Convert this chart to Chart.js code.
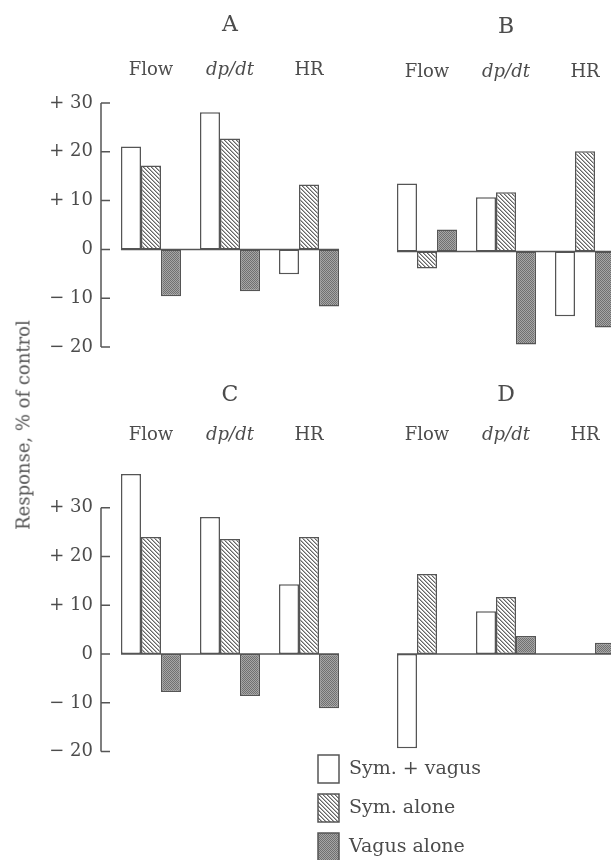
<!DOCTYPE html>
<html>
<head>
<meta charset="utf-8">
<script src="https://cdn.jsdelivr.net/npm/chart.js@4.4.1/dist/chart.umd.min.js"></script>
<style>
  html, body { margin: 0; padding: 0; width: 611px; height: 860px; overflow: hidden; background: #fff; }
  canvas { position: absolute; }
  #ytitle {
    position: absolute; left: 23px; top: 425px;
    transform: translate(-50%, -50%) rotate(-90deg);
    font: 18px "DejaVu Serif"; color: #555; white-space: nowrap;
  }
</style>
</head>
<body>
<canvas id="panelA" width="360" height="387" style="left:0;top:0"></canvas>
<canvas id="panelB" width="340" height="387" style="left:300px;top:2px"></canvas>
<canvas id="panelC" width="360" height="432" style="left:0;top:360px"></canvas>
<canvas id="panelD" width="340" height="500" style="left:300px;top:360px"></canvas>
<div id="ytitle">Response, % of control</div>
<script>
const categories = ['Flow', 'dp/dt', 'HR'];
const seriesNames = ['Sym. + vagus', 'Sym. alone', 'Vagus alone'];
const yTicks = [30, 20, 10, 0, -10, -20];

// panel A
const symVagusA = [21.1, 28.1, -5.1];
const symAloneA = [17.2, 22.7, 13.3];
const vagusAloneA = [-9.6, -8.6, -11.7];
// panel B
const symVagusB = [13.9, 11.1, -13.3];
const symAloneB = [-3.5, 12.1, 20.5];
const vagusAloneB = [4.5, -19.1, -15.6];
// panel C
const symVagusC = [36.9, 28.1, 14.3];
const symAloneC = [24, 23.6, 24];
const vagusAloneC = [-7.8, -8.6, -11.1];
// panel D
const symVagusD = [-19.3, 8.8, 0];
const symAloneD = [16.4, 11.7, 0];
const vagusAloneD = [0, 3.7, 2.3];

const TEXT = '#4c4c4c';
const LINE = '#555';
Chart.defaults.font.family = '"DejaVu Serif", serif';
Chart.defaults.color = TEXT;

function hatchPattern() {
    let c = document.createElement('canvas');
    c.width = 4; c.height = 4;
    let g = c.getContext('2d');
    g.fillStyle = '#fff';
    g.fillRect(0, 0, 4, 4);
    for (let i = 0; i < 4; i++) {
        g.fillStyle = '#666';
        g.fillRect(i, i, 1, 1);
        g.fillStyle = '#b0b0b0';
        g.fillRect((i + 1) % 4, i, 1, 1);
    }
    return g.createPattern(c, 'repeat');
}

function stipplePattern() {
    let c = document.createElement('canvas');
    c.width = 2; c.height = 2;
    let g = c.getContext('2d');
    g.fillStyle = '#a6a6a6';
    g.fillRect(0, 0, 2, 2);
    g.fillStyle = '#707070';
    g.fillRect(0, 0, 1, 1);
    g.fillRect(1, 1, 1, 1);
    return g.createPattern(c, 'repeat');
}

const fills = ['#fff', hatchPattern(), stipplePattern()];

// left axis drawn as a bracket from -20 to +30 with ticks pointing inward
const axisBracket = {
    id: 'axisBracket',
    afterDraw(chart, args, opts) {
        if (!opts.show) return;
        let y = chart.scales.y, ctx = chart.ctx;
        let x = chart.chartArea.left - 10.5;
        ctx.save();
        ctx.strokeStyle = LINE;
        ctx.lineWidth = 1.5;
        ctx.beginPath();
        ctx.moveTo(x, y.getPixelForValue(Math.max(...yTicks)));
        ctx.lineTo(x, y.getPixelForValue(Math.min(...yTicks)));
        yTicks.forEach(v => {
            let py = y.getPixelForValue(v);
            ctx.moveTo(x, py);
            ctx.lineTo(x + 9, py);
        });
        ctx.stroke();
        ctx.restore();
    }
};

// baseline at zero from the first bar to the last one
const zeroLine = {
    id: 'zeroLine',
    afterDatasetsDraw(chart) {
        let ctx = chart.ctx;
        let first = chart.getDatasetMeta(0).data[0];
        let lastMeta = chart.getDatasetMeta(chart.data.datasets.length - 1);
        let last = lastMeta.data[lastMeta.data.length - 1];
        let y0 = chart.scales.y.getPixelForValue(0);
        ctx.save();
        ctx.strokeStyle = LINE;
        ctx.lineWidth = 1.5;
        ctx.beginPath();
        ctx.moveTo(first.x - first.width / 2, y0);
        ctx.lineTo(last.x + last.width / 2, y0);
        ctx.stroke();
        ctx.restore();
    }
};

// stacked legend under panel D
const sideLegend = {
    id: 'sideLegend',
    afterDraw(chart, args, opts) {
        if (!opts.show) return;
        let ctx = chart.ctx;
        ctx.save();
        chart.data.datasets.forEach((ds, i) => {
            let bx = opts.x, by = opts.y + i * opts.step;
            ctx.fillStyle = ds.backgroundColor;
            ctx.fillRect(bx, by, 21, 28);
            ctx.strokeStyle = ds.borderColor;
            ctx.lineWidth = 1.5;
            ctx.strokeRect(bx, by, 21, 28);
            ctx.fillStyle = TEXT;
            ctx.font = '19px "DejaVu Serif"';
            ctx.textBaseline = 'middle';
            ctx.fillText(ds.label, bx + 31, by + 14);
        });
        ctx.restore();
    }
};

function fmtTick(v) {
    if (v > 0) return '+ ' + v;
    if (v < 0) return '\u2212 ' + Math.abs(v);
    return '0';
}

function makePanel(id, title, values, cfg) {
    return new Chart(document.getElementById(id), {
        type: 'bar',
        data: {
            labels: categories,
            datasets: values.map((v, i) => ({
                label: seriesNames[i],
                data: v,
                backgroundColor: fills[i],
                borderColor: LINE,
                borderWidth: 1.5,
                borderSkipped: false,
                categoryPercentage: 0.76,
                barPercentage: 1
            }))
        },
        plugins: [axisBracket, zeroLine, sideLegend],
        options: {
            responsive: false,
            animation: false,
            events: [],
            layout: { padding: { left: cfg.padLeft, right: cfg.padRight, top: 0, bottom: cfg.padBottom } },
            plugins: {
                legend: { display: false },
                tooltip: { enabled: false },
                title: {
                    display: true, text: title, fullSize: false, color: TEXT,
                    font: { size: 22, weight: 'normal' },
                    padding: { top: cfg.titleTop, bottom: 0 }
                },
                axisBracket: { show: cfg.showAxis },
                sideLegend: { show: !!cfg.legend, x: 18, y: 395, step: 39 }
            },
            scales: {
                x: {
                    position: 'top',
                    grid: { display: false, drawTicks: false },
                    border: { display: false },
                    ticks: {
                        padding: cfg.labelPad,
                        color: TEXT,
                        font: ctx => ({ size: 18, style: ctx.index === 1 ? 'italic' : 'normal' })
                    },
                    afterFit: s => { s.height = cfg.xHeight; }
                },
                y: {
                    display: cfg.showAxis,
                    min: -20,
                    max: cfg.yMax,
                    grid: { display: false, drawTicks: false },
                    border: { display: false },
                    afterBuildTicks: s => { s.ticks = yTicks.map(v => ({ value: v })); },
                    ticks: { padding: 18.5, color: TEXT, font: { size: 18 }, callback: v => fmtTick(v) },
                    afterFit: s => { if (cfg.showAxis) s.width = 111.5; }
                }
            }
        }
    });
}

const topRow = { yMax: 30, titleTop: 11.8, xHeight: 64.8, labelPad: 22.2, padBottom: 40 };
const bottomRow = { yMax: 40, titleTop: 21.8, xHeight: 50.8, labelPad: 13.2, padBottom: 40.4 };

makePanel('panelA', 'A', [symVagusA, symAloneA, vagusAloneA],
    Object.assign({}, topRow, { showAxis: true, padLeft: 0, padRight: 11.5 }));
makePanel('panelB', 'B', [symVagusB, symAloneB, vagusAloneB],
    Object.assign({}, topRow, { showAxis: false, padLeft: 87.5, padRight: 15.5 }));
makePanel('panelC', 'C', [symVagusC, symAloneC, vagusAloneC],
    Object.assign({}, bottomRow, { showAxis: true, padLeft: 0, padRight: 11.5 }));
makePanel('panelD', 'D', [symVagusD, symAloneD, vagusAloneD],
    Object.assign({}, bottomRow, { showAxis: false, padLeft: 87.5, padRight: 15.5, padBottom: 108.4, legend: true }));
</script>
</body>
</html>
